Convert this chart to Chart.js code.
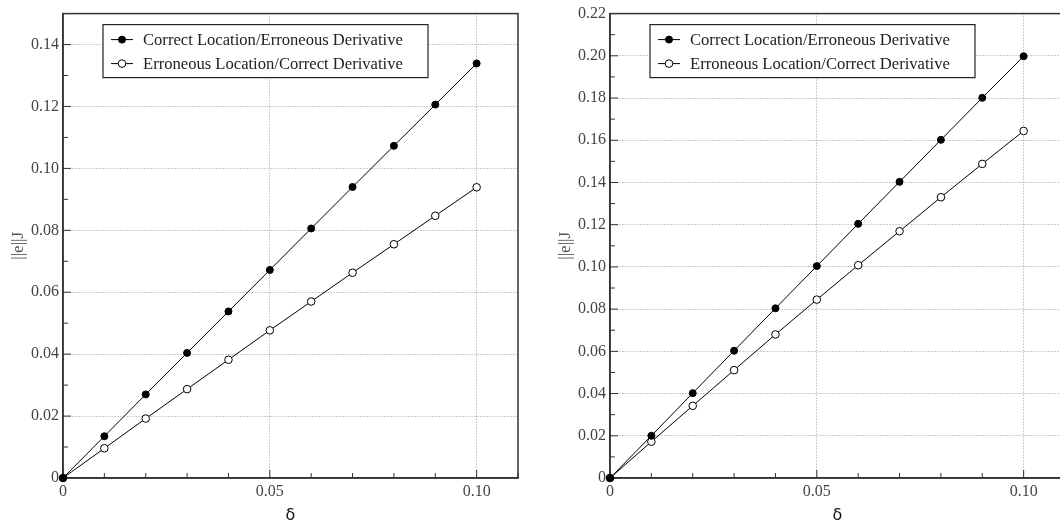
<!DOCTYPE html>
<html>
<head>
<meta charset="utf-8">
<script src="https://cdn.jsdelivr.net/npm/chart.js@4/dist/chart.umd.min.js"></script>
<style>
  html, body { margin: 0; padding: 0; background: #fff; overflow: hidden; width: 1060px; height: 527px; }
  #wrapL { position: absolute; left: 0; top: 0; width: 530px; height: 527px; }
  #wrapR { position: absolute; left: 530px; top: 0; width: 547px; height: 527px; }
</style>
</head>
<body>
<div id="wrapL"><canvas id="chartL" width="530" height="527"></canvas></div>
<div id="wrapR"><canvas id="chartR" width="547" height="527"></canvas></div>
<script>
// ---- data ----
const seriesNames = ['Correct Location/Erroneous Derivative', 'Erroneous Location/Correct Derivative'];
const delta = [0, 0.01, 0.02, 0.03, 0.04, 0.05, 0.06, 0.07, 0.08, 0.09, 0.10];

const leftCorrectLocation   = [0, 0.0135, 0.0270, 0.0404, 0.0538, 0.0672, 0.0806, 0.0940, 0.1073, 0.1206, 0.1339];
const leftErroneousLocation = [0, 0.0096, 0.0192, 0.0287, 0.0382, 0.0477, 0.0570, 0.0663, 0.0755, 0.0847, 0.0939];

const rightCorrectLocation   = [0, 0.0200, 0.0402, 0.0603, 0.0804, 0.1004, 0.1204, 0.1403, 0.1602, 0.1801, 0.1998];
const rightErroneousLocation = [0, 0.0172, 0.0342, 0.0511, 0.0680, 0.0845, 0.1008, 0.1169, 0.1330, 0.1488, 0.1644];

// ---- ticks ----
const xTickValues = [0, 0.01, 0.02, 0.03, 0.04, 0.05, 0.06, 0.07, 0.08, 0.09, 0.10, 0.11];
const xTickLabels = ['0', '', '', '', '', '0.05', '', '', '', '', '0.10', ''];
const yTickValuesLeft = [0, 0.01, 0.02, 0.03, 0.04, 0.05, 0.06, 0.07, 0.08, 0.09, 0.10, 0.11, 0.12, 0.13, 0.14, 0.15];
const yTickLabelsLeft = ['0', '', '0.02', '', '0.04', '', '0.06', '', '0.08', '', '0.10', '', '0.12', '', '0.14', ''];
const yTickValuesRight = [0, 0.01, 0.02, 0.03, 0.04, 0.05, 0.06, 0.07, 0.08, 0.09, 0.10, 0.11, 0.12, 0.13, 0.14, 0.15, 0.16, 0.17, 0.18, 0.19, 0.20, 0.21, 0.22];
const yTickLabelsRight = ['0', '', '0.02', '', '0.04', '', '0.06', '', '0.08', '', '0.10', '', '0.12', '', '0.14', '', '0.16', '', '0.18', '', '0.20', '', '0.22'];

const xTitle = 'δ';
const yTitle = '||e||J';

const SERIF = "'Liberation Serif', 'DejaVu Serif', serif";
const FRAME = '#333';

// inward tick marks + plot frame
const frameTicksPlugin = {
  id: 'frameTicks',
  beforeDatasetsDraw(chart) {
    const {ctx, chartArea: ca} = chart;
    const xs = chart.scales.x, ys = chart.scales.y;
    ctx.save();
    ctx.strokeStyle = FRAME;
    ctx.lineWidth = 1;
    xs.ticks.forEach(t => {
      const px = xs.getPixelForValue(t.value);
      const len = t.label ? 8 : 5;
      ctx.beginPath();
      ctx.moveTo(px, ca.bottom);
      ctx.lineTo(px, ca.bottom - len);
      ctx.stroke();
    });
    ys.ticks.forEach(t => {
      const py = ys.getPixelForValue(t.value);
      const len = t.label ? 8 : 5;
      ctx.beginPath();
      ctx.moveTo(ca.left, py);
      ctx.lineTo(ca.left + len, py);
      ctx.stroke();
    });
    ctx.lineWidth = 1.5;
    ctx.strokeRect(ca.left, ca.top, ca.right - ca.left, ca.bottom - ca.top);
    ctx.restore();
  }
};

// boxed legend inside plot area
const boxLegendPlugin = {
  id: 'boxLegend',
  afterDatasetsDraw(chart) {
    const {ctx, chartArea: ca} = chart;
    const bx = ca.left + 40, by = ca.top + 11, bw = 325, bh = 53;
    ctx.save();
    ctx.fillStyle = '#fff';
    ctx.fillRect(bx, by, bw, bh);
    ctx.strokeStyle = '#222';
    ctx.lineWidth = 1.2;
    ctx.strokeRect(bx, by, bw, bh);
    ctx.font = "16.6px " + SERIF;
    ctx.textBaseline = 'middle';
    chart.data.datasets.forEach((ds, i) => {
      const cy = by + 15 + i * 24;
      ctx.strokeStyle = '#000';
      ctx.lineWidth = 1;
      ctx.beginPath();
      ctx.moveTo(bx + 8, cy);
      ctx.lineTo(bx + 30, cy);
      ctx.stroke();
      ctx.beginPath();
      ctx.arc(bx + 19, cy, ds.pointRadius, 0, Math.PI * 2);
      ctx.fillStyle = ds.pointBackgroundColor;
      ctx.fill();
      ctx.stroke();
      ctx.fillStyle = '#222';
      ctx.fillText(ds.label, bx + 40, cy + 1);
    });
    ctx.restore();
  }
};

function makeChart(canvasId, yA, yB, yMax, yTickValues, yTickLabels, yAxisWidth, yTitlePad) {
  const ctx = document.getElementById(canvasId);
  return new Chart(ctx, {
    type: 'line',
    data: {
      datasets: [
        {
          label: seriesNames[0],
          data: delta.map((d, i) => ({x: d, y: yA[i]})),
          borderColor: '#000', borderWidth: 1,
          pointRadius: 3.5, pointHoverRadius: 3.5,
          pointBackgroundColor: '#000', pointBorderColor: '#000', pointBorderWidth: 1,
          fill: false, tension: 0, clip: false
        },
        {
          label: seriesNames[1],
          data: delta.map((d, i) => ({x: d, y: yB[i]})),
          borderColor: '#000', borderWidth: 1,
          pointRadius: 3.8, pointHoverRadius: 3.8,
          pointBackgroundColor: '#fff', pointBorderColor: '#000', pointBorderWidth: 1,
          fill: false, tension: 0, clip: false
        }
      ]
    },
    options: {
      responsive: false,
      animation: false,
      devicePixelRatio: 1,
      events: [],
      layout: { padding: { left: 0, top: 7, right: 12, bottom: 0 } },
      plugins: { legend: { display: false }, tooltip: { enabled: false } },
      scales: {
        x: {
          type: 'linear', min: 0, max: 0.11,
          afterBuildTicks: s => { s.ticks = xTickValues.map(v => ({value: v})); },
          afterFit: s => { s.height = 49; },
          ticks: {
            autoSkip: false, maxRotation: 0, padding: 4,
            color: '#444', font: { family: SERIF, size: 16 },
            callback: (v, i) => xTickLabels[i]
          },
          grid: {
            drawTicks: false,
            color: c => (c.tick && xTickLabels[c.index]) ? '#999' : 'rgba(0,0,0,0)',
            lineWidth: 1
          },
          border: { display: true, color: FRAME, width: 1.5, dash: [1, 2] },
          title: {
            display: true, text: xTitle, color: '#111',
            font: { family: "'DejaVu Sans', sans-serif", size: 16 },
            padding: { top: 0, bottom: 2 }
          }
        },
        y: {
          type: 'linear', min: 0, max: yMax,
          afterBuildTicks: s => { s.ticks = yTickValues.map(v => ({value: v})); },
          afterFit: s => { s.width = yAxisWidth; },
          ticks: {
            autoSkip: false, padding: 4,
            color: '#444', font: { family: SERIF, size: 16 },
            callback: (v, i) => yTickLabels[i]
          },
          grid: {
            drawTicks: false,
            color: c => (c.tick && yTickLabels[c.index]) ? '#999' : 'rgba(0,0,0,0)',
            lineWidth: 1
          },
          border: { display: true, color: FRAME, width: 1.5, dash: [1, 2] },
          title: {
            display: true, text: yTitle, color: '#555',
            font: { family: SERIF, size: 17 },
            padding: { top: yTitlePad, bottom: 0 }
          }
        }
      }
    },
    plugins: [frameTicksPlugin, boxLegendPlugin]
  });
}

makeChart('chartL', leftCorrectLocation, leftErroneousLocation, 0.15, yTickValuesLeft, yTickLabelsLeft, 63, 8);
makeChart('chartR', rightCorrectLocation, rightErroneousLocation, 0.22, yTickValuesRight, yTickLabelsRight, 80, 25);
</script>
</body>
</html>
